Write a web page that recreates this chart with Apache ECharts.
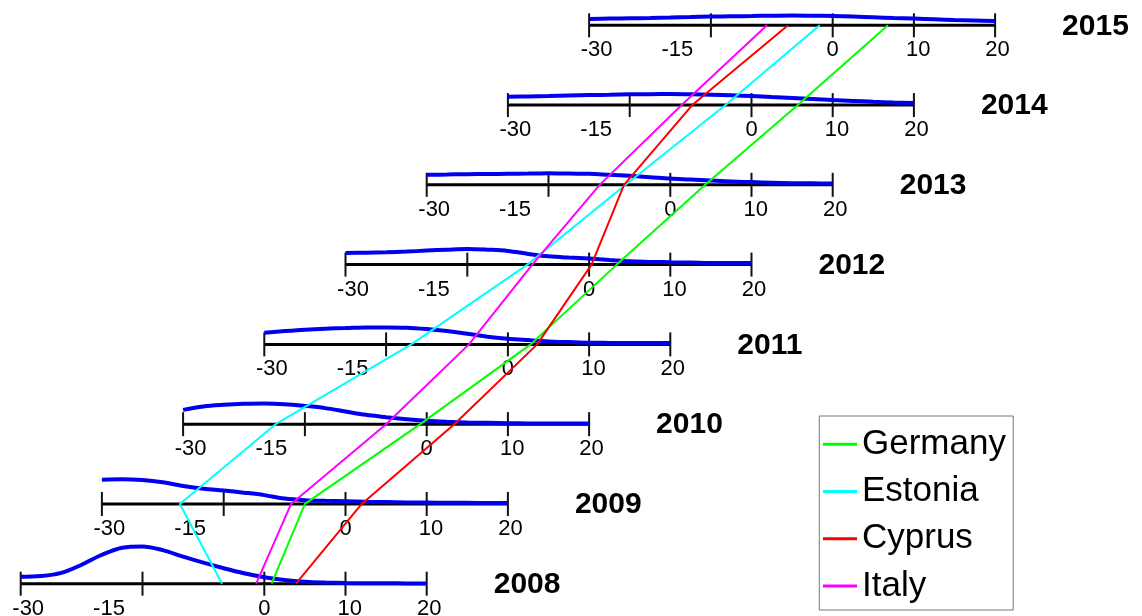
<!DOCTYPE html>
<html>
<head>
<meta charset="utf-8">
<script src="https://cdn.jsdelivr.net/npm/echarts@6/dist/echarts.min.js"></script>
<style>
  html, body { margin: 0; padding: 0; background: #fff; }
  #chart { width: 1142px; height: 616px; }
</style>
</head>
<body>
<div id="chart"></div>
<script>
// ---- data ----
const years = [2008, 2009, 2010, 2011, 2012, 2013, 2014, 2015];
const countries = ['Germany', 'Estonia', 'Cyprus', 'Italy'];

const germany = [0.9, -5.0, -0.8, 2.8, 3.4, 4.3, 5.7, 6.8];
const estonia = [-5.2, -20.4, -18.6, -11.9, -7.6, -5.5, -3.2, -1.6];
const cyprus  = [3.9, 2.0, 3.4, 3.6, 0.3, -5.7, -7.3, -5.5];
const italy   = [-1.0, -6.7, -5.0, -4.8, -7.0, -8.7, -8.6, -8.1];

const tickValues = [-30, -15, 0, 10, 20];
const tickLabels = ['-30', '-15', '0', '10', '20'];

// points where each year's density estimate is sampled
const densityAt = [-30, -27.5, -25, -22.5, -20, -17.5, -15, -12.5, -10, -7.5, -5,
                   -2.5, 0, 2.5, 5, 7.5, 10, 12.5, 15, 17.5, 20];
const density2008 = [.0100, .0110, .0155, .0271, .0414, .0514, .0533, .0479, .0386, .0300, .0221,
                     .0150, .0093, .0053, .0029, .0017, .0010, .0007, .0006, .0004, .0004];
const density2009 = [.0347, .0353, .0341, .0309, .0257, .0217, .0191, .0161, .0126, .0076, .0053,
                     .0044, .0039, .0031, .0026, .0021, .0019, .0017, .0016, .0014, .0014];
const density2010 = [.0204, .0253, .0276, .0290, .0296, .0286, .0261, .0229, .0181, .0133, .0100,
                     .0071, .0047, .0033, .0024, .0019, .0014, .0011, .0010, .0010, .0010];
const density2011 = [.0167, .0190, .0210, .0224, .0233, .0243, .0243, .0239, .0219, .0190, .0153,
                     .0110, .0081, .0061, .0043, .0033, .0024, .0021, .0019, .0019, .0019];
const density2012 = [.0167, .0171, .0176, .0186, .0200, .0214, .0224, .0214, .0196, .0153, .0119,
                     .0100, .0086, .0067, .0047, .0039, .0033, .0029, .0024, .0024, .0024];
const density2013 = [.0143, .0147, .0153, .0154, .0157, .0161, .0167, .0161, .0157, .0143, .0129,
                     .0110, .0090, .0076, .0061, .0047, .0039, .0031, .0024, .0021, .0019];
const density2014 = [.0119, .0124, .0129, .0136, .0143, .0147, .0153, .0156, .0157, .0153, .0147,
                     .0139, .0129, .0114, .0100, .0086, .0071, .0059, .0047, .0037, .0029];
const density2015 = [.0090, .0096, .0100, .0104, .0110, .0117, .0124, .0129, .0133, .0137, .0140,
                     .0137, .0133, .0124, .0114, .0104, .0096, .0086, .0076, .0069, .0061];

// ---- layout ----
const AXIS_MIN = -30, AXIS_MAX = 20;
const YEAR_SHIFT = 10;        // each year's axis sits this many value units to the right of the previous one
const DENSITY_HEIGHT = 8.775; // rows (years) per unit of density
const LABEL_NUDGE = [7.5, -33.5, 0, 4.3, 2.5]; // horizontal pixel nudges of the tick labels
const FONT = 'Liberation Sans, Arial, Helvetica, sans-serif';

const countryValues = [germany, estonia, cyprus, italy];
const countryColors = ['#00ff00', '#00ffff', '#ff0000', '#ff00ff'];
const densities = [density2008, density2009, density2010, density2011,
                   density2012, density2013, density2014, density2015];

const shifted = (v, i) => v + YEAR_SHIFT * i;

const series = [];

// year axes: line, crossing ticks, tick labels, year title
series.push({
  type: 'custom',
  coordinateSystem: 'cartesian2d',
  silent: true,
  clip: false,
  z: 1,
  data: years.map((y, i) => [i, y]),
  renderItem(params, api) {
    const i = api.value(0);
    const year = api.value(1);
    const a = api.coord([shifted(AXIS_MIN, i), year]);
    const b = api.coord([shifted(AXIS_MAX, i), year]);
    const children = [{
      type: 'line',
      shape: { x1: a[0], y1: a[1], x2: b[0], y2: b[1] },
      style: { stroke: '#000', lineWidth: 3 }
    }];
    tickValues.forEach((t, k) => {
      const p = api.coord([shifted(t, i), year]);
      children.push({
        type: 'line',
        shape: { x1: p[0], y1: p[1] - 12, x2: p[0], y2: p[1] + 12 },
        style: { stroke: '#111', lineWidth: 2 }
      });
      children.push({
        type: 'text',
        x: p[0] + LABEL_NUDGE[k],
        y: p[1] + 25,
        style: {
          text: tickLabels[k], fill: '#000',
          fontSize: 22, fontFamily: FONT,
          align: 'center', verticalAlign: 'middle'
        }
      });
    });
    children.push({
      type: 'text',
      x: b[0] + 67,
      y: b[1] + 1,
      style: {
        text: String(years[i]), fill: '#000',
        fontSize: 30, fontWeight: 'bold', fontFamily: FONT,
        align: 'left', verticalAlign: 'middle'
      }
    });
    return { type: 'group', children };
  }
});

// density curves above each year's axis
years.forEach((y, i) => {
  series.push({
    type: 'line',
    silent: true,
    clip: false,
    z: 2,
    smooth: 0.35,
    showSymbol: false,
    lineStyle: { color: '#0000ee', width: 4 },
    data: densityAt.map((v, k) => [shifted(v, i), y + densities[i][k] * DENSITY_HEIGHT])
  });
});

// country paths across the years
countries.forEach((name, c) => {
  series.push({
    name,
    type: 'line',
    clip: false,
    z: 3,
    showSymbol: false,
    color: countryColors[c],
    lineStyle: { color: countryColors[c], width: 2 },
    itemStyle: { color: countryColors[c] },
    data: years.map((y, i) => [shifted(countryValues[c][i], i), y])
  });
});

const chart = echarts.init(document.getElementById('chart'), null, { renderer: 'canvas' });
chart.setOption({
  backgroundColor: '#fff',
  animation: false,
  grid: { left: 20.7, right: 146.9, top: 25.3, bottom: 32.3 },
  xAxis: { type: 'value', min: AXIS_MIN, max: AXIS_MAX + YEAR_SHIFT * (years.length - 1), show: false },
  yAxis: { type: 'value', min: years[0], max: years[years.length - 1], show: false },
  legend: {
    data: countries,
    orient: 'vertical',
    left: 819.3,
    top: 416,
    padding: [10.3, 7.3, 6.1, 3.7],
    itemGap: 11.2,
    itemWidth: 34,
    itemHeight: 3,
    icon: 'rect',
    borderColor: '#777',
    borderWidth: 1,
    selectedMode: false,
    textStyle: { fontSize: 35, lineHeight: 36, fontFamily: FONT, color: '#000' }
  },
  series
});
</script>
</body>
</html>
